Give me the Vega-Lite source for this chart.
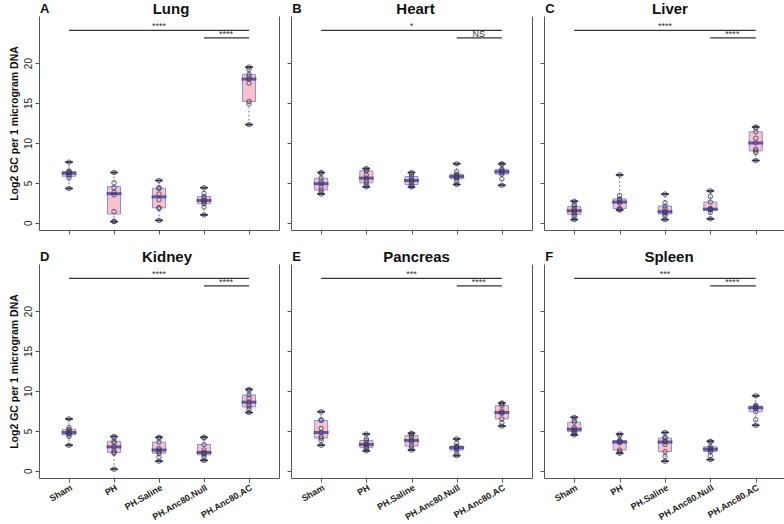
{
"$schema":"https://vega.github.io/schema/vega-lite/v6.json",
"padding":{"left":9,"top":2,"right":0,"bottom":0},
"background":"white",
"config":{"font":"Liberation Sans","view":{"stroke":null},
"axis":{"grid":false,"domainColor":"#555","tickColor":"#555","labelColor":"#222","labelFont":"Liberation Sans","titleFont":"Liberation Sans","titleColor":"#111","tickSize":4},
"title":{"fontSize":15,"fontWeight":"bold","font":"Liberation Sans","color":"#111","offset":-14}},
"datasets":{
"obs":[
{"organ":"Lung","group":"Sham","value":7.6},{"organ":"Lung","group":"Sham","value":6.5},{"organ":"Lung","group":"Sham","value":6.4},{"organ":"Lung","group":"Sham","value":6.3},{"organ":"Lung","group":"Sham","value":6.1},{"organ":"Lung","group":"Sham","value":5.9},{"organ":"Lung","group":"Sham","value":5.6},{"organ":"Lung","group":"Sham","value":4.3},
{"organ":"Lung","group":"PH","value":6.3},{"organ":"Lung","group":"PH","value":5.0},{"organ":"Lung","group":"PH","value":4.4},{"organ":"Lung","group":"PH","value":3.8},{"organ":"Lung","group":"PH","value":3.5},{"organ":"Lung","group":"PH","value":1.4},{"organ":"Lung","group":"PH","value":0.2},{"organ":"Lung","group":"PH","value":0.15},
{"organ":"Lung","group":"PH.Saline","value":5.3},{"organ":"Lung","group":"PH.Saline","value":4.4},{"organ":"Lung","group":"PH.Saline","value":4.3},{"organ":"Lung","group":"PH.Saline","value":3.6},{"organ":"Lung","group":"PH.Saline","value":2.9},{"organ":"Lung","group":"PH.Saline","value":1.9},{"organ":"Lung","group":"PH.Saline","value":1.8},{"organ":"Lung","group":"PH.Saline","value":0.3},
{"organ":"Lung","group":"PH.Anc80.Null","value":4.4},{"organ":"Lung","group":"PH.Anc80.Null","value":3.7},{"organ":"Lung","group":"PH.Anc80.Null","value":3.3},{"organ":"Lung","group":"PH.Anc80.Null","value":3.0},{"organ":"Lung","group":"PH.Anc80.Null","value":2.8},{"organ":"Lung","group":"PH.Anc80.Null","value":2.6},{"organ":"Lung","group":"PH.Anc80.Null","value":2.4},{"organ":"Lung","group":"PH.Anc80.Null","value":2.0},{"organ":"Lung","group":"PH.Anc80.Null","value":1.0},
{"organ":"Lung","group":"PH.Anc80.AC","value":19.5},{"organ":"Lung","group":"PH.Anc80.AC","value":19.2},{"organ":"Lung","group":"PH.Anc80.AC","value":18.6},{"organ":"Lung","group":"PH.Anc80.AC","value":18.3},{"organ":"Lung","group":"PH.Anc80.AC","value":18.0},{"organ":"Lung","group":"PH.Anc80.AC","value":17.5},{"organ":"Lung","group":"PH.Anc80.AC","value":15.2},{"organ":"Lung","group":"PH.Anc80.AC","value":14.9},{"organ":"Lung","group":"PH.Anc80.AC","value":12.3},
{"organ":"Heart","group":"Sham","value":6.3},{"organ":"Heart","group":"Sham","value":6.2},{"organ":"Heart","group":"Sham","value":5.6},{"organ":"Heart","group":"Sham","value":5.2},{"organ":"Heart","group":"Sham","value":4.9},{"organ":"Heart","group":"Sham","value":4.5},{"organ":"Heart","group":"Sham","value":4.1},{"organ":"Heart","group":"Sham","value":3.8},{"organ":"Heart","group":"Sham","value":3.6},
{"organ":"Heart","group":"PH","value":6.8},{"organ":"Heart","group":"PH","value":6.6},{"organ":"Heart","group":"PH","value":6.5},{"organ":"Heart","group":"PH","value":6.0},{"organ":"Heart","group":"PH","value":5.6},{"organ":"Heart","group":"PH","value":5.3},{"organ":"Heart","group":"PH","value":5.0},{"organ":"Heart","group":"PH","value":4.7},{"organ":"Heart","group":"PH","value":4.5},
{"organ":"Heart","group":"PH.Saline","value":6.3},{"organ":"Heart","group":"PH.Saline","value":6.1},{"organ":"Heart","group":"PH.Saline","value":5.8},{"organ":"Heart","group":"PH.Saline","value":5.5},{"organ":"Heart","group":"PH.Saline","value":5.3},{"organ":"Heart","group":"PH.Saline","value":5.1},{"organ":"Heart","group":"PH.Saline","value":4.8},{"organ":"Heart","group":"PH.Saline","value":4.6},{"organ":"Heart","group":"PH.Saline","value":4.5},
{"organ":"Heart","group":"PH.Anc80.Null","value":7.4},{"organ":"Heart","group":"PH.Anc80.Null","value":6.4},{"organ":"Heart","group":"PH.Anc80.Null","value":6.1},{"organ":"Heart","group":"PH.Anc80.Null","value":5.9},{"organ":"Heart","group":"PH.Anc80.Null","value":5.8},{"organ":"Heart","group":"PH.Anc80.Null","value":5.7},{"organ":"Heart","group":"PH.Anc80.Null","value":5.5},{"organ":"Heart","group":"PH.Anc80.Null","value":5.2},{"organ":"Heart","group":"PH.Anc80.Null","value":4.8},
{"organ":"Heart","group":"PH.Anc80.AC","value":7.4},{"organ":"Heart","group":"PH.Anc80.AC","value":7.3},{"organ":"Heart","group":"PH.Anc80.AC","value":6.7},{"organ":"Heart","group":"PH.Anc80.AC","value":6.6},{"organ":"Heart","group":"PH.Anc80.AC","value":6.4},{"organ":"Heart","group":"PH.Anc80.AC","value":6.3},{"organ":"Heart","group":"PH.Anc80.AC","value":6.1},{"organ":"Heart","group":"PH.Anc80.AC","value":5.5},{"organ":"Heart","group":"PH.Anc80.AC","value":4.7},
{"organ":"Liver","group":"Sham","value":2.7},{"organ":"Liver","group":"Sham","value":2.3},{"organ":"Liver","group":"Sham","value":2.1},{"organ":"Liver","group":"Sham","value":1.8},{"organ":"Liver","group":"Sham","value":1.6},{"organ":"Liver","group":"Sham","value":1.4},{"organ":"Liver","group":"Sham","value":1.2},{"organ":"Liver","group":"Sham","value":1.0},{"organ":"Liver","group":"Sham","value":0.8},{"organ":"Liver","group":"Sham","value":0.4},
{"organ":"Liver","group":"PH","value":6.0},{"organ":"Liver","group":"PH","value":3.4},{"organ":"Liver","group":"PH","value":3.0},{"organ":"Liver","group":"PH","value":2.8},{"organ":"Liver","group":"PH","value":2.6},{"organ":"Liver","group":"PH","value":2.5},{"organ":"Liver","group":"PH","value":1.8},{"organ":"Liver","group":"PH","value":1.7},{"organ":"Liver","group":"PH","value":1.6},
{"organ":"Liver","group":"PH.Saline","value":3.6},{"organ":"Liver","group":"PH.Saline","value":2.5},{"organ":"Liver","group":"PH.Saline","value":2.1},{"organ":"Liver","group":"PH.Saline","value":1.7},{"organ":"Liver","group":"PH.Saline","value":1.4},{"organ":"Liver","group":"PH.Saline","value":1.3},{"organ":"Liver","group":"PH.Saline","value":1.1},{"organ":"Liver","group":"PH.Saline","value":0.9},{"organ":"Liver","group":"PH.Saline","value":0.4},
{"organ":"Liver","group":"PH.Anc80.Null","value":4.0},{"organ":"Liver","group":"PH.Anc80.Null","value":3.3},{"organ":"Liver","group":"PH.Anc80.Null","value":2.6},{"organ":"Liver","group":"PH.Anc80.Null","value":1.8},{"organ":"Liver","group":"PH.Anc80.Null","value":1.7},{"organ":"Liver","group":"PH.Anc80.Null","value":1.7},{"organ":"Liver","group":"PH.Anc80.Null","value":1.6},{"organ":"Liver","group":"PH.Anc80.Null","value":1.3},{"organ":"Liver","group":"PH.Anc80.Null","value":0.5},
{"organ":"Liver","group":"PH.Anc80.AC","value":12.0},{"organ":"Liver","group":"PH.Anc80.AC","value":11.9},{"organ":"Liver","group":"PH.Anc80.AC","value":11.4},{"organ":"Liver","group":"PH.Anc80.AC","value":10.6},{"organ":"Liver","group":"PH.Anc80.AC","value":10.0},{"organ":"Liver","group":"PH.Anc80.AC","value":9.2},{"organ":"Liver","group":"PH.Anc80.AC","value":9.0},{"organ":"Liver","group":"PH.Anc80.AC","value":8.8},{"organ":"Liver","group":"PH.Anc80.AC","value":7.8},
{"organ":"Kidney","group":"Sham","value":6.5},{"organ":"Kidney","group":"Sham","value":5.4},{"organ":"Kidney","group":"Sham","value":5.2},{"organ":"Kidney","group":"Sham","value":5.0},{"organ":"Kidney","group":"Sham","value":4.8},{"organ":"Kidney","group":"Sham","value":4.7},{"organ":"Kidney","group":"Sham","value":4.5},{"organ":"Kidney","group":"Sham","value":4.3},{"organ":"Kidney","group":"Sham","value":3.2},
{"organ":"Kidney","group":"PH","value":4.3},{"organ":"Kidney","group":"PH","value":4.1},{"organ":"Kidney","group":"PH","value":3.7},{"organ":"Kidney","group":"PH","value":3.5},{"organ":"Kidney","group":"PH","value":3.0},{"organ":"Kidney","group":"PH","value":2.5},{"organ":"Kidney","group":"PH","value":2.3},{"organ":"Kidney","group":"PH","value":2.2},{"organ":"Kidney","group":"PH","value":0.2},
{"organ":"Kidney","group":"PH.Saline","value":4.2},{"organ":"Kidney","group":"PH.Saline","value":4.1},{"organ":"Kidney","group":"PH.Saline","value":3.6},{"organ":"Kidney","group":"PH.Saline","value":2.8},{"organ":"Kidney","group":"PH.Saline","value":2.6},{"organ":"Kidney","group":"PH.Saline","value":2.4},{"organ":"Kidney","group":"PH.Saline","value":2.2},{"organ":"Kidney","group":"PH.Saline","value":1.7},{"organ":"Kidney","group":"PH.Saline","value":1.2},
{"organ":"Kidney","group":"PH.Anc80.Null","value":4.2},{"organ":"Kidney","group":"PH.Anc80.Null","value":4.1},{"organ":"Kidney","group":"PH.Anc80.Null","value":3.3},{"organ":"Kidney","group":"PH.Anc80.Null","value":2.6},{"organ":"Kidney","group":"PH.Anc80.Null","value":2.3},{"organ":"Kidney","group":"PH.Anc80.Null","value":2.2},{"organ":"Kidney","group":"PH.Anc80.Null","value":2.0},{"organ":"Kidney","group":"PH.Anc80.Null","value":1.7},{"organ":"Kidney","group":"PH.Anc80.Null","value":1.3},
{"organ":"Kidney","group":"PH.Anc80.AC","value":10.2},{"organ":"Kidney","group":"PH.Anc80.AC","value":10.0},{"organ":"Kidney","group":"PH.Anc80.AC","value":9.5},{"organ":"Kidney","group":"PH.Anc80.AC","value":9.1},{"organ":"Kidney","group":"PH.Anc80.AC","value":8.6},{"organ":"Kidney","group":"PH.Anc80.AC","value":8.3},{"organ":"Kidney","group":"PH.Anc80.AC","value":8.0},{"organ":"Kidney","group":"PH.Anc80.AC","value":7.7},{"organ":"Kidney","group":"PH.Anc80.AC","value":7.3},
{"organ":"Pancreas","group":"Sham","value":7.4},{"organ":"Pancreas","group":"Sham","value":6.4},{"organ":"Pancreas","group":"Sham","value":6.3},{"organ":"Pancreas","group":"Sham","value":5.3},{"organ":"Pancreas","group":"Sham","value":4.8},{"organ":"Pancreas","group":"Sham","value":4.3},{"organ":"Pancreas","group":"Sham","value":4.1},{"organ":"Pancreas","group":"Sham","value":3.8},{"organ":"Pancreas","group":"Sham","value":3.2},
{"organ":"Pancreas","group":"PH","value":4.6},{"organ":"Pancreas","group":"PH","value":4.0},{"organ":"Pancreas","group":"PH","value":3.8},{"organ":"Pancreas","group":"PH","value":3.5},{"organ":"Pancreas","group":"PH","value":3.3},{"organ":"Pancreas","group":"PH","value":3.1},{"organ":"Pancreas","group":"PH","value":2.9},{"organ":"Pancreas","group":"PH","value":2.8},{"organ":"Pancreas","group":"PH","value":2.5},
{"organ":"Pancreas","group":"PH.Saline","value":4.7},{"organ":"Pancreas","group":"PH.Saline","value":4.6},{"organ":"Pancreas","group":"PH.Saline","value":4.4},{"organ":"Pancreas","group":"PH.Saline","value":4.2},{"organ":"Pancreas","group":"PH.Saline","value":3.8},{"organ":"Pancreas","group":"PH.Saline","value":3.6},{"organ":"Pancreas","group":"PH.Saline","value":3.1},{"organ":"Pancreas","group":"PH.Saline","value":2.8},{"organ":"Pancreas","group":"PH.Saline","value":2.6},
{"organ":"Pancreas","group":"PH.Anc80.Null","value":4.0},{"organ":"Pancreas","group":"PH.Anc80.Null","value":3.5},{"organ":"Pancreas","group":"PH.Anc80.Null","value":3.1},{"organ":"Pancreas","group":"PH.Anc80.Null","value":3.0},{"organ":"Pancreas","group":"PH.Anc80.Null","value":2.9},{"organ":"Pancreas","group":"PH.Anc80.Null","value":2.8},{"organ":"Pancreas","group":"PH.Anc80.Null","value":2.6},{"organ":"Pancreas","group":"PH.Anc80.Null","value":2.2},{"organ":"Pancreas","group":"PH.Anc80.Null","value":1.9},
{"organ":"Pancreas","group":"PH.Anc80.AC","value":8.5},{"organ":"Pancreas","group":"PH.Anc80.AC","value":8.4},{"organ":"Pancreas","group":"PH.Anc80.AC","value":8.2},{"organ":"Pancreas","group":"PH.Anc80.AC","value":7.5},{"organ":"Pancreas","group":"PH.Anc80.AC","value":7.3},{"organ":"Pancreas","group":"PH.Anc80.AC","value":7.2},{"organ":"Pancreas","group":"PH.Anc80.AC","value":6.5},{"organ":"Pancreas","group":"PH.Anc80.AC","value":6.0},{"organ":"Pancreas","group":"PH.Anc80.AC","value":5.6},
{"organ":"Spleen","group":"Sham","value":6.7},{"organ":"Spleen","group":"Sham","value":6.3},{"organ":"Spleen","group":"Sham","value":6.1},{"organ":"Spleen","group":"Sham","value":5.4},{"organ":"Spleen","group":"Sham","value":5.2},{"organ":"Spleen","group":"Sham","value":5.0},{"organ":"Spleen","group":"Sham","value":4.9},{"organ":"Spleen","group":"Sham","value":4.7},{"organ":"Spleen","group":"Sham","value":4.5},
{"organ":"Spleen","group":"PH","value":4.6},{"organ":"Spleen","group":"PH","value":4.4},{"organ":"Spleen","group":"PH","value":3.8},{"organ":"Spleen","group":"PH","value":3.7},{"organ":"Spleen","group":"PH","value":3.6},{"organ":"Spleen","group":"PH","value":3.5},{"organ":"Spleen","group":"PH","value":2.6},{"organ":"Spleen","group":"PH","value":2.4},{"organ":"Spleen","group":"PH","value":2.2},
{"organ":"Spleen","group":"PH.Saline","value":4.8},{"organ":"Spleen","group":"PH.Saline","value":4.2},{"organ":"Spleen","group":"PH.Saline","value":4.1},{"organ":"Spleen","group":"PH.Saline","value":3.7},{"organ":"Spleen","group":"PH.Saline","value":3.6},{"organ":"Spleen","group":"PH.Saline","value":3.3},{"organ":"Spleen","group":"PH.Saline","value":2.4},{"organ":"Spleen","group":"PH.Saline","value":1.8},{"organ":"Spleen","group":"PH.Saline","value":1.2},
{"organ":"Spleen","group":"PH.Anc80.Null","value":3.7},{"organ":"Spleen","group":"PH.Anc80.Null","value":3.6},{"organ":"Spleen","group":"PH.Anc80.Null","value":3.0},{"organ":"Spleen","group":"PH.Anc80.Null","value":2.8},{"organ":"Spleen","group":"PH.Anc80.Null","value":2.7},{"organ":"Spleen","group":"PH.Anc80.Null","value":2.6},{"organ":"Spleen","group":"PH.Anc80.Null","value":2.4},{"organ":"Spleen","group":"PH.Anc80.Null","value":1.9},{"organ":"Spleen","group":"PH.Anc80.Null","value":1.4},
{"organ":"Spleen","group":"PH.Anc80.AC","value":9.4},{"organ":"Spleen","group":"PH.Anc80.AC","value":8.2},{"organ":"Spleen","group":"PH.Anc80.AC","value":8.1},{"organ":"Spleen","group":"PH.Anc80.AC","value":8.0},{"organ":"Spleen","group":"PH.Anc80.AC","value":7.9},{"organ":"Spleen","group":"PH.Anc80.AC","value":7.8},{"organ":"Spleen","group":"PH.Anc80.AC","value":7.4},{"organ":"Spleen","group":"PH.Anc80.AC","value":6.4},{"organ":"Spleen","group":"PH.Anc80.AC","value":5.7}
],
"sig":[
{"organ":"Lung","from":"Sham","to":"PH.Anc80.AC","mid":"PH.Saline","y":24.1,"label":"****","kind":"all"},
{"organ":"Lung","from":"PH.Anc80.Null","to":"PH.Anc80.AC","mid":"PH.Anc80.Null","y":23.15,"label":"****","kind":"pair"},
{"organ":"Heart","from":"Sham","to":"PH.Anc80.AC","mid":"PH.Saline","y":24.1,"label":"*","kind":"all"},
{"organ":"Heart","from":"PH.Anc80.Null","to":"PH.Anc80.AC","mid":"PH.Anc80.Null","y":23.15,"label":"NS","kind":"pair"},
{"organ":"Liver","from":"Sham","to":"PH.Anc80.AC","mid":"PH.Saline","y":24.1,"label":"****","kind":"all"},
{"organ":"Liver","from":"PH.Anc80.Null","to":"PH.Anc80.AC","mid":"PH.Anc80.Null","y":23.15,"label":"****","kind":"pair"},
{"organ":"Kidney","from":"Sham","to":"PH.Anc80.AC","mid":"PH.Saline","y":24.1,"label":"****","kind":"all"},
{"organ":"Kidney","from":"PH.Anc80.Null","to":"PH.Anc80.AC","mid":"PH.Anc80.Null","y":23.15,"label":"****","kind":"pair"},
{"organ":"Pancreas","from":"Sham","to":"PH.Anc80.AC","mid":"PH.Saline","y":24.1,"label":"***","kind":"all"},
{"organ":"Pancreas","from":"PH.Anc80.Null","to":"PH.Anc80.AC","mid":"PH.Anc80.Null","y":23.15,"label":"****","kind":"pair"},
{"organ":"Spleen","from":"Sham","to":"PH.Anc80.AC","mid":"PH.Saline","y":24.1,"label":"***","kind":"all"},
{"organ":"Spleen","from":"PH.Anc80.Null","to":"PH.Anc80.AC","mid":"PH.Anc80.Null","y":23.15,"label":"****","kind":"pair"}
],
"panels":[
{"organ":"Lung","letter":"A"},{"organ":"Heart","letter":"B"},{"organ":"Liver","letter":"C"},
{"organ":"Kidney","letter":"D"},{"organ":"Pancreas","letter":"E"},{"organ":"Spleen","letter":"F"}
]
},
"spacing":{"row":15,"column":7},
"columns":3,
"concat":[
{"width":240,"height":214,"title":{"text":"Lung","dx":12},
"layer":[
{"data":{"name":"obs"},"transform":[{"filter":"datum.organ==='Lung'"}],
"mark":{"type":"boxplot","extent":"min-max","size":13,"box":{"fill":"#F8C1CC","stroke":"#8F8FD9","strokeWidth":1},"median":{"stroke":"#2B2B9E","strokeWidth":2},"rule":{"stroke":"#7474A8","strokeDash":[2,2]},"ticks":{"stroke":"#3C3C5C","size":7}},
"encoding":{"x":{"field":"group","type":"nominal","scale":{"type":"point","domain":["Sham","PH","PH.Saline","PH.Anc80.Null","PH.Anc80.AC"],"padding":0.667},"axis":{"labels":false,"title":null}},
"y":{"field":"value","type":"quantitative","scale":{"domain":[-0.9,25.9],"nice":false,"zero":false},"axis":{"values":[0,5,10,15,20],"labelAngle":-90,"labelFontSize":10,"title":"Log2 GC per 1 microgram DNA","titleFontWeight":"bold","titleFontSize":10.5}}}},
{"data":{"name":"obs"},"transform":[{"filter":"datum.organ==='Lung'"}],
"mark":{"type":"point","filled":false,"stroke":"#3A3A58","strokeWidth":0.8,"size":20,"opacity":1},
"encoding":{"x":{"field":"group","type":"nominal","scale":{"type":"point","domain":["Sham","PH","PH.Saline","PH.Anc80.Null","PH.Anc80.AC"],"padding":0.667}},"y":{"field":"value","type":"quantitative","scale":{"domain":[-0.9,25.9],"nice":false,"zero":false},"axis":null}}},
{"data":{"name":"sig"},"transform":[{"filter":"datum.organ==='Lung'"}],
"mark":{"type":"rule","stroke":"#333","strokeWidth":1.3},
"encoding":{"x":{"field":"from","type":"nominal","scale":{"type":"point","domain":["Sham","PH","PH.Saline","PH.Anc80.Null","PH.Anc80.AC"],"padding":0.667}},"x2":{"field":"to"},"y":{"field":"y","type":"quantitative","scale":{"domain":[-0.9,25.9],"nice":false,"zero":false},"axis":{"orient":"right","labels":false,"ticks":false,"title":null}}}},
{"data":{"name":"sig"},"transform":[{"filter":"datum.organ==='Lung' && datum.kind==='all'"}],
"mark":{"type":"text","fontSize":9,"baseline":"alphabetic","dy":-1,"color":"#333"},
"encoding":{"x":{"field":"mid","type":"nominal","scale":{"type":"point","domain":["Sham","PH","PH.Saline","PH.Anc80.Null","PH.Anc80.AC"],"padding":0.667}},"y":{"field":"y","type":"quantitative","scale":{"domain":[-0.9,25.9],"nice":false,"zero":false},"axis":null},"text":{"field":"label"}}},
{"data":{"name":"sig"},"transform":[{"filter":"datum.organ==='Lung' && datum.kind==='pair'"}],
"mark":{"type":"text","fontSize":9,"baseline":"alphabetic","dy":-1,"dx":22,"color":"#333"},
"encoding":{"x":{"field":"mid","type":"nominal","scale":{"type":"point","domain":["Sham","PH","PH.Saline","PH.Anc80.Null","PH.Anc80.AC"],"padding":0.667}},"y":{"field":"y","type":"quantitative","scale":{"domain":[-0.9,25.9],"nice":false,"zero":false},"axis":null},"text":{"field":"label"}}},
{"data":{"name":"panels"},"transform":[{"filter":"datum.organ==='Lung'"}],
"mark":{"type":"text","fontSize":13,"fontWeight":"bold","align":"left","baseline":"bottom","dx":-29,"color":"#111"},
"encoding":{"x":{"datum":"Sham","type":"nominal","scale":{"type":"point","domain":["Sham","PH","PH.Saline","PH.Anc80.Null","PH.Anc80.AC"],"padding":0.667}},"y":{"datum":25.9,"type":"quantitative","scale":{"domain":[-0.9,25.9],"nice":false,"zero":false},"axis":null},"text":{"field":"letter"}}}
],
"resolve":{"axis":{"y":"independent"}}},

{"width":241,"height":214,"title":{"text":"Heart","dx":4},
"layer":[
{"data":{"name":"obs"},"transform":[{"filter":"datum.organ==='Heart'"}],
"mark":{"type":"boxplot","extent":"min-max","size":13,"box":{"fill":"#F8C1CC","stroke":"#8F8FD9","strokeWidth":1},"median":{"stroke":"#2B2B9E","strokeWidth":2},"rule":{"stroke":"#7474A8","strokeDash":[2,2]},"ticks":{"stroke":"#3C3C5C","size":7}},
"encoding":{"x":{"field":"group","type":"nominal","scale":{"type":"point","domain":["Sham","PH","PH.Saline","PH.Anc80.Null","PH.Anc80.AC"],"padding":0.667},"axis":{"labels":false,"title":null}},
"y":{"field":"value","type":"quantitative","scale":{"domain":[-0.9,25.9],"nice":false,"zero":false},"axis":{"values":[0,5,10,15,20],"labels":false,"title":null}}}},
{"data":{"name":"obs"},"transform":[{"filter":"datum.organ==='Heart'"}],
"mark":{"type":"point","filled":false,"stroke":"#3A3A58","strokeWidth":0.8,"size":20,"opacity":1},
"encoding":{"x":{"field":"group","type":"nominal","scale":{"type":"point","domain":["Sham","PH","PH.Saline","PH.Anc80.Null","PH.Anc80.AC"],"padding":0.667}},"y":{"field":"value","type":"quantitative","scale":{"domain":[-0.9,25.9],"nice":false,"zero":false},"axis":null}}},
{"data":{"name":"sig"},"transform":[{"filter":"datum.organ==='Heart'"}],
"mark":{"type":"rule","stroke":"#333","strokeWidth":1.3},
"encoding":{"x":{"field":"from","type":"nominal","scale":{"type":"point","domain":["Sham","PH","PH.Saline","PH.Anc80.Null","PH.Anc80.AC"],"padding":0.667}},"x2":{"field":"to"},"y":{"field":"y","type":"quantitative","scale":{"domain":[-0.9,25.9],"nice":false,"zero":false},"axis":{"orient":"right","labels":false,"ticks":false,"title":null}}}},
{"data":{"name":"sig"},"transform":[{"filter":"datum.organ==='Heart' && datum.kind==='all'"}],
"mark":{"type":"text","fontSize":9,"baseline":"alphabetic","dy":-1,"color":"#333"},
"encoding":{"x":{"field":"mid","type":"nominal","scale":{"type":"point","domain":["Sham","PH","PH.Saline","PH.Anc80.Null","PH.Anc80.AC"],"padding":0.667}},"y":{"field":"y","type":"quantitative","scale":{"domain":[-0.9,25.9],"nice":false,"zero":false},"axis":null},"text":{"field":"label"}}},
{"data":{"name":"sig"},"transform":[{"filter":"datum.organ==='Heart' && datum.kind==='pair'"}],
"mark":{"type":"text","fontSize":9,"baseline":"alphabetic","dy":-1,"dx":22,"color":"#333"},
"encoding":{"x":{"field":"mid","type":"nominal","scale":{"type":"point","domain":["Sham","PH","PH.Saline","PH.Anc80.Null","PH.Anc80.AC"],"padding":0.667}},"y":{"field":"y","type":"quantitative","scale":{"domain":[-0.9,25.9],"nice":false,"zero":false},"axis":null},"text":{"field":"label"}}},
{"data":{"name":"panels"},"transform":[{"filter":"datum.organ==='Heart'"}],
"mark":{"type":"text","fontSize":13,"fontWeight":"bold","align":"left","baseline":"bottom","dx":-29,"color":"#111"},
"encoding":{"x":{"datum":"Sham","type":"nominal","scale":{"type":"point","domain":["Sham","PH","PH.Saline","PH.Anc80.Null","PH.Anc80.AC"],"padding":0.667}},"y":{"datum":25.9,"type":"quantitative","scale":{"domain":[-0.9,25.9],"nice":false,"zero":false},"axis":null},"text":{"field":"letter"}}}
],
"resolve":{"axis":{"y":"independent"}}},

{"width":242,"height":214,"title":{"text":"Liver","dx":5},
"layer":[
{"data":{"name":"obs"},"transform":[{"filter":"datum.organ==='Liver'"}],
"mark":{"type":"boxplot","extent":"min-max","size":13,"box":{"fill":"#F8C1CC","stroke":"#8F8FD9","strokeWidth":1},"median":{"stroke":"#2B2B9E","strokeWidth":2},"rule":{"stroke":"#7474A8","strokeDash":[2,2]},"ticks":{"stroke":"#3C3C5C","size":7}},
"encoding":{"x":{"field":"group","type":"nominal","scale":{"type":"point","domain":["Sham","PH","PH.Saline","PH.Anc80.Null","PH.Anc80.AC"],"padding":0.667},"axis":{"labels":false,"title":null}},
"y":{"field":"value","type":"quantitative","scale":{"domain":[-0.9,25.9],"nice":false,"zero":false},"axis":{"values":[0,5,10,15,20],"labels":false,"title":null}}}},
{"data":{"name":"obs"},"transform":[{"filter":"datum.organ==='Liver'"}],
"mark":{"type":"point","filled":false,"stroke":"#3A3A58","strokeWidth":0.8,"size":20,"opacity":1},
"encoding":{"x":{"field":"group","type":"nominal","scale":{"type":"point","domain":["Sham","PH","PH.Saline","PH.Anc80.Null","PH.Anc80.AC"],"padding":0.667}},"y":{"field":"value","type":"quantitative","scale":{"domain":[-0.9,25.9],"nice":false,"zero":false},"axis":null}}},
{"data":{"name":"sig"},"transform":[{"filter":"datum.organ==='Liver'"}],
"mark":{"type":"rule","stroke":"#333","strokeWidth":1.3},
"encoding":{"x":{"field":"from","type":"nominal","scale":{"type":"point","domain":["Sham","PH","PH.Saline","PH.Anc80.Null","PH.Anc80.AC"],"padding":0.667}},"x2":{"field":"to"},"y":{"field":"y","type":"quantitative","scale":{"domain":[-0.9,25.9],"nice":false,"zero":false},"axis":{"orient":"right","labels":false,"ticks":false,"title":null}}}},
{"data":{"name":"sig"},"transform":[{"filter":"datum.organ==='Liver' && datum.kind==='all'"}],
"mark":{"type":"text","fontSize":9,"baseline":"alphabetic","dy":-1,"color":"#333"},
"encoding":{"x":{"field":"mid","type":"nominal","scale":{"type":"point","domain":["Sham","PH","PH.Saline","PH.Anc80.Null","PH.Anc80.AC"],"padding":0.667}},"y":{"field":"y","type":"quantitative","scale":{"domain":[-0.9,25.9],"nice":false,"zero":false},"axis":null},"text":{"field":"label"}}},
{"data":{"name":"sig"},"transform":[{"filter":"datum.organ==='Liver' && datum.kind==='pair'"}],
"mark":{"type":"text","fontSize":9,"baseline":"alphabetic","dy":-1,"dx":22,"color":"#333"},
"encoding":{"x":{"field":"mid","type":"nominal","scale":{"type":"point","domain":["Sham","PH","PH.Saline","PH.Anc80.Null","PH.Anc80.AC"],"padding":0.667}},"y":{"field":"y","type":"quantitative","scale":{"domain":[-0.9,25.9],"nice":false,"zero":false},"axis":null},"text":{"field":"label"}}},
{"data":{"name":"panels"},"transform":[{"filter":"datum.organ==='Liver'"}],
"mark":{"type":"text","fontSize":13,"fontWeight":"bold","align":"left","baseline":"bottom","dx":-29,"color":"#111"},
"encoding":{"x":{"datum":"Sham","type":"nominal","scale":{"type":"point","domain":["Sham","PH","PH.Saline","PH.Anc80.Null","PH.Anc80.AC"],"padding":0.667}},"y":{"datum":25.9,"type":"quantitative","scale":{"domain":[-0.9,25.9],"nice":false,"zero":false},"axis":null},"text":{"field":"letter"}}}
],
"resolve":{"axis":{"y":"independent"}}},

{"width":240,"height":214,"title":{"text":"Kidney","dx":8},
"layer":[
{"data":{"name":"obs"},"transform":[{"filter":"datum.organ==='Kidney'"}],
"mark":{"type":"boxplot","extent":"min-max","size":13,"box":{"fill":"#F8C1CC","stroke":"#8F8FD9","strokeWidth":1},"median":{"stroke":"#2B2B9E","strokeWidth":2},"rule":{"stroke":"#7474A8","strokeDash":[2,2]},"ticks":{"stroke":"#3C3C5C","size":7}},
"encoding":{"x":{"field":"group","type":"nominal","scale":{"type":"point","domain":["Sham","PH","PH.Saline","PH.Anc80.Null","PH.Anc80.AC"],"padding":0.667},"axis":{"labelAngle":-30,"labelFontSize":9,"labelPadding":1,"labelFontWeight":"bold","title":null}},
"y":{"field":"value","type":"quantitative","scale":{"domain":[-0.9,25.9],"nice":false,"zero":false},"axis":{"values":[0,5,10,15,20],"labelAngle":-90,"labelFontSize":10,"title":"Log2 GC per 1 microgram DNA","titleFontWeight":"bold","titleFontSize":10.5}}}},
{"data":{"name":"obs"},"transform":[{"filter":"datum.organ==='Kidney'"}],
"mark":{"type":"point","filled":false,"stroke":"#3A3A58","strokeWidth":0.8,"size":20,"opacity":1},
"encoding":{"x":{"field":"group","type":"nominal","scale":{"type":"point","domain":["Sham","PH","PH.Saline","PH.Anc80.Null","PH.Anc80.AC"],"padding":0.667}},"y":{"field":"value","type":"quantitative","scale":{"domain":[-0.9,25.9],"nice":false,"zero":false},"axis":null}}},
{"data":{"name":"sig"},"transform":[{"filter":"datum.organ==='Kidney'"}],
"mark":{"type":"rule","stroke":"#333","strokeWidth":1.3},
"encoding":{"x":{"field":"from","type":"nominal","scale":{"type":"point","domain":["Sham","PH","PH.Saline","PH.Anc80.Null","PH.Anc80.AC"],"padding":0.667}},"x2":{"field":"to"},"y":{"field":"y","type":"quantitative","scale":{"domain":[-0.9,25.9],"nice":false,"zero":false},"axis":{"orient":"right","labels":false,"ticks":false,"title":null}}}},
{"data":{"name":"sig"},"transform":[{"filter":"datum.organ==='Kidney' && datum.kind==='all'"}],
"mark":{"type":"text","fontSize":9,"baseline":"alphabetic","dy":-1,"color":"#333"},
"encoding":{"x":{"field":"mid","type":"nominal","scale":{"type":"point","domain":["Sham","PH","PH.Saline","PH.Anc80.Null","PH.Anc80.AC"],"padding":0.667}},"y":{"field":"y","type":"quantitative","scale":{"domain":[-0.9,25.9],"nice":false,"zero":false},"axis":null},"text":{"field":"label"}}},
{"data":{"name":"sig"},"transform":[{"filter":"datum.organ==='Kidney' && datum.kind==='pair'"}],
"mark":{"type":"text","fontSize":9,"baseline":"alphabetic","dy":-1,"dx":22,"color":"#333"},
"encoding":{"x":{"field":"mid","type":"nominal","scale":{"type":"point","domain":["Sham","PH","PH.Saline","PH.Anc80.Null","PH.Anc80.AC"],"padding":0.667}},"y":{"field":"y","type":"quantitative","scale":{"domain":[-0.9,25.9],"nice":false,"zero":false},"axis":null},"text":{"field":"label"}}},
{"data":{"name":"panels"},"transform":[{"filter":"datum.organ==='Kidney'"}],
"mark":{"type":"text","fontSize":13,"fontWeight":"bold","align":"left","baseline":"bottom","dx":-29,"color":"#111"},
"encoding":{"x":{"datum":"Sham","type":"nominal","scale":{"type":"point","domain":["Sham","PH","PH.Saline","PH.Anc80.Null","PH.Anc80.AC"],"padding":0.667}},"y":{"datum":25.9,"type":"quantitative","scale":{"domain":[-0.9,25.9],"nice":false,"zero":false},"axis":null},"text":{"field":"letter"}}}
],
"resolve":{"axis":{"y":"independent"}}},

{"width":241,"height":214,"title":{"text":"Pancreas","dx":5},
"layer":[
{"data":{"name":"obs"},"transform":[{"filter":"datum.organ==='Pancreas'"}],
"mark":{"type":"boxplot","extent":"min-max","size":13,"box":{"fill":"#F8C1CC","stroke":"#8F8FD9","strokeWidth":1},"median":{"stroke":"#2B2B9E","strokeWidth":2},"rule":{"stroke":"#7474A8","strokeDash":[2,2]},"ticks":{"stroke":"#3C3C5C","size":7}},
"encoding":{"x":{"field":"group","type":"nominal","scale":{"type":"point","domain":["Sham","PH","PH.Saline","PH.Anc80.Null","PH.Anc80.AC"],"padding":0.667},"axis":{"labelAngle":-30,"labelFontSize":9,"labelPadding":1,"labelFontWeight":"bold","title":null}},
"y":{"field":"value","type":"quantitative","scale":{"domain":[-0.9,25.9],"nice":false,"zero":false},"axis":{"values":[0,5,10,15,20],"labels":false,"title":null}}}},
{"data":{"name":"obs"},"transform":[{"filter":"datum.organ==='Pancreas'"}],
"mark":{"type":"point","filled":false,"stroke":"#3A3A58","strokeWidth":0.8,"size":20,"opacity":1},
"encoding":{"x":{"field":"group","type":"nominal","scale":{"type":"point","domain":["Sham","PH","PH.Saline","PH.Anc80.Null","PH.Anc80.AC"],"padding":0.667}},"y":{"field":"value","type":"quantitative","scale":{"domain":[-0.9,25.9],"nice":false,"zero":false},"axis":null}}},
{"data":{"name":"sig"},"transform":[{"filter":"datum.organ==='Pancreas'"}],
"mark":{"type":"rule","stroke":"#333","strokeWidth":1.3},
"encoding":{"x":{"field":"from","type":"nominal","scale":{"type":"point","domain":["Sham","PH","PH.Saline","PH.Anc80.Null","PH.Anc80.AC"],"padding":0.667}},"x2":{"field":"to"},"y":{"field":"y","type":"quantitative","scale":{"domain":[-0.9,25.9],"nice":false,"zero":false},"axis":{"orient":"right","labels":false,"ticks":false,"title":null}}}},
{"data":{"name":"sig"},"transform":[{"filter":"datum.organ==='Pancreas' && datum.kind==='all'"}],
"mark":{"type":"text","fontSize":9,"baseline":"alphabetic","dy":-1,"color":"#333"},
"encoding":{"x":{"field":"mid","type":"nominal","scale":{"type":"point","domain":["Sham","PH","PH.Saline","PH.Anc80.Null","PH.Anc80.AC"],"padding":0.667}},"y":{"field":"y","type":"quantitative","scale":{"domain":[-0.9,25.9],"nice":false,"zero":false},"axis":null},"text":{"field":"label"}}},
{"data":{"name":"sig"},"transform":[{"filter":"datum.organ==='Pancreas' && datum.kind==='pair'"}],
"mark":{"type":"text","fontSize":9,"baseline":"alphabetic","dy":-1,"dx":22,"color":"#333"},
"encoding":{"x":{"field":"mid","type":"nominal","scale":{"type":"point","domain":["Sham","PH","PH.Saline","PH.Anc80.Null","PH.Anc80.AC"],"padding":0.667}},"y":{"field":"y","type":"quantitative","scale":{"domain":[-0.9,25.9],"nice":false,"zero":false},"axis":null},"text":{"field":"label"}}},
{"data":{"name":"panels"},"transform":[{"filter":"datum.organ==='Pancreas'"}],
"mark":{"type":"text","fontSize":13,"fontWeight":"bold","align":"left","baseline":"bottom","dx":-29,"color":"#111"},
"encoding":{"x":{"datum":"Sham","type":"nominal","scale":{"type":"point","domain":["Sham","PH","PH.Saline","PH.Anc80.Null","PH.Anc80.AC"],"padding":0.667}},"y":{"datum":25.9,"type":"quantitative","scale":{"domain":[-0.9,25.9],"nice":false,"zero":false},"axis":null},"text":{"field":"letter"}}}
],
"resolve":{"axis":{"y":"independent"}}},

{"width":242,"height":214,"title":{"text":"Spleen","dx":4},
"layer":[
{"data":{"name":"obs"},"transform":[{"filter":"datum.organ==='Spleen'"}],
"mark":{"type":"boxplot","extent":"min-max","size":13,"box":{"fill":"#F8C1CC","stroke":"#8F8FD9","strokeWidth":1},"median":{"stroke":"#2B2B9E","strokeWidth":2},"rule":{"stroke":"#7474A8","strokeDash":[2,2]},"ticks":{"stroke":"#3C3C5C","size":7}},
"encoding":{"x":{"field":"group","type":"nominal","scale":{"type":"point","domain":["Sham","PH","PH.Saline","PH.Anc80.Null","PH.Anc80.AC"],"padding":0.667},"axis":{"labelAngle":-30,"labelFontSize":9,"labelPadding":1,"labelFontWeight":"bold","title":null}},
"y":{"field":"value","type":"quantitative","scale":{"domain":[-0.9,25.9],"nice":false,"zero":false},"axis":{"values":[0,5,10,15,20],"labels":false,"title":null}}}},
{"data":{"name":"obs"},"transform":[{"filter":"datum.organ==='Spleen'"}],
"mark":{"type":"point","filled":false,"stroke":"#3A3A58","strokeWidth":0.8,"size":20,"opacity":1},
"encoding":{"x":{"field":"group","type":"nominal","scale":{"type":"point","domain":["Sham","PH","PH.Saline","PH.Anc80.Null","PH.Anc80.AC"],"padding":0.667}},"y":{"field":"value","type":"quantitative","scale":{"domain":[-0.9,25.9],"nice":false,"zero":false},"axis":null}}},
{"data":{"name":"sig"},"transform":[{"filter":"datum.organ==='Spleen'"}],
"mark":{"type":"rule","stroke":"#333","strokeWidth":1.3},
"encoding":{"x":{"field":"from","type":"nominal","scale":{"type":"point","domain":["Sham","PH","PH.Saline","PH.Anc80.Null","PH.Anc80.AC"],"padding":0.667}},"x2":{"field":"to"},"y":{"field":"y","type":"quantitative","scale":{"domain":[-0.9,25.9],"nice":false,"zero":false},"axis":{"orient":"right","labels":false,"ticks":false,"title":null}}}},
{"data":{"name":"sig"},"transform":[{"filter":"datum.organ==='Spleen' && datum.kind==='all'"}],
"mark":{"type":"text","fontSize":9,"baseline":"alphabetic","dy":-1,"color":"#333"},
"encoding":{"x":{"field":"mid","type":"nominal","scale":{"type":"point","domain":["Sham","PH","PH.Saline","PH.Anc80.Null","PH.Anc80.AC"],"padding":0.667}},"y":{"field":"y","type":"quantitative","scale":{"domain":[-0.9,25.9],"nice":false,"zero":false},"axis":null},"text":{"field":"label"}}},
{"data":{"name":"sig"},"transform":[{"filter":"datum.organ==='Spleen' && datum.kind==='pair'"}],
"mark":{"type":"text","fontSize":9,"baseline":"alphabetic","dy":-1,"dx":22,"color":"#333"},
"encoding":{"x":{"field":"mid","type":"nominal","scale":{"type":"point","domain":["Sham","PH","PH.Saline","PH.Anc80.Null","PH.Anc80.AC"],"padding":0.667}},"y":{"field":"y","type":"quantitative","scale":{"domain":[-0.9,25.9],"nice":false,"zero":false},"axis":null},"text":{"field":"label"}}},
{"data":{"name":"panels"},"transform":[{"filter":"datum.organ==='Spleen'"}],
"mark":{"type":"text","fontSize":13,"fontWeight":"bold","align":"left","baseline":"bottom","dx":-29,"color":"#111"},
"encoding":{"x":{"datum":"Sham","type":"nominal","scale":{"type":"point","domain":["Sham","PH","PH.Saline","PH.Anc80.Null","PH.Anc80.AC"],"padding":0.667}},"y":{"datum":25.9,"type":"quantitative","scale":{"domain":[-0.9,25.9],"nice":false,"zero":false},"axis":null},"text":{"field":"letter"}}}
],
"resolve":{"axis":{"y":"independent"}}}
]
}
